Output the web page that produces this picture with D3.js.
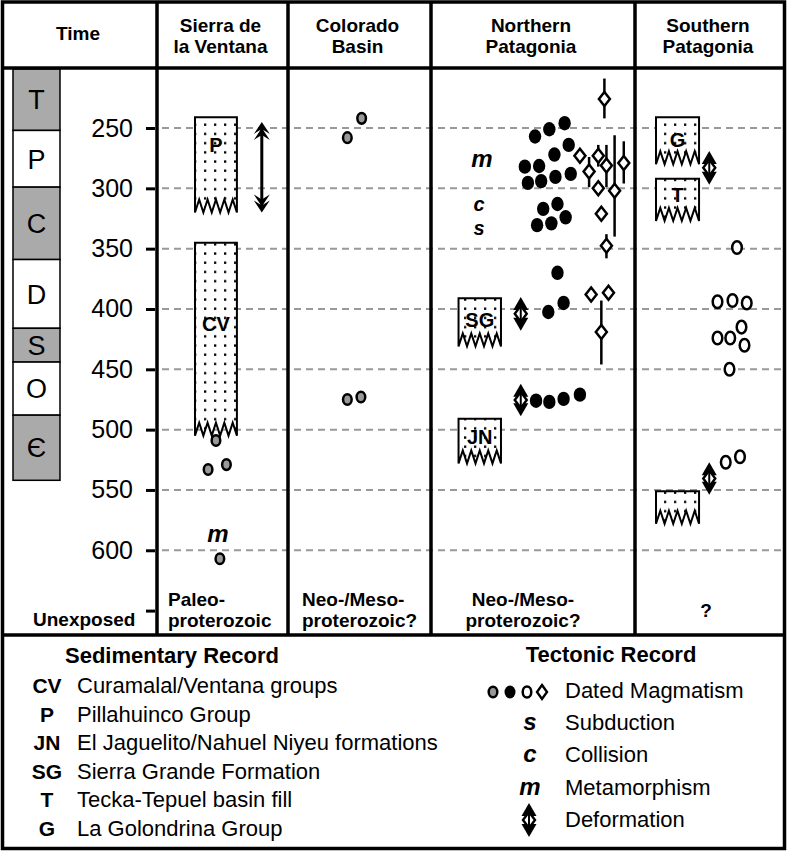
<!DOCTYPE html>
<meta charset="utf-8">
<title>Time chart</title>
<style>
  body { margin: 0; background: #fff; }
  svg text { font-family: "Liberation Sans", Arial, Helvetica, sans-serif; }
</style>
<div id="viz"></div>
<script src="https://cdnjs.cloudflare.com/ajax/libs/d3/7.8.5/d3.min.js"></script>
<script>

var width = 788;
var height = 852;

// ---- data ----
var columns = [["Time"], ["Sierra de", "la Ventana"], ["Colorado", "Basin"], ["Northern", "Patagonia"], ["Southern", "Patagonia"]];
var periodSymbols = ["T", "P", "C", "D", "S", "O", "Є"];
var periodBounds = [201, 252, 299, 359, 416, 444, 488, 542];
var ageTicks = [250, 300, 350, 400, 450, 500, 550, 600, 650];
var basementLabels = [["Unexposed"], ["Paleo-", "proterozoic"], ["Neo-/Meso-", "proterozoic?"], ["Neo-/Meso-", "proterozoic?"], ["?"]];

// sedimentary units: column, label, top age, base age, age of label
var sedBoxes = [
  {col: 1, label: "P", top: 241, base: 320, labelAge: 264},
  {col: 1, label: "CV", top: 345, base: 505, labelAge: 412},
  {col: 3, label: "SG", top: 391, base: 431, labelAge: 409},
  {col: 3, label: "JN", top: 491, base: 528, labelAge: 506},
  {col: 4, label: "G", top: 241, base: 280, labelAge: 260},
  {col: 4, label: "T", top: 292, base: 327, labelAge: 305},
  {col: 4, label: "", top: 551, base: 578, labelAge: 560}
];

// dated magmatism; lane = place across the column (0-100)
var greyDots = [
  {col: 1, lane: 45, age: 509}, {col: 1, lane: 39, age: 533}, {col: 1, lane: 53, age: 529}, {col: 1, lane: 48, age: 607},
  {col: 2, lane: 41.5, age: 258}, {col: 2, lane: 51.5, age: 242},
  {col: 2, lane: 41.5, age: 475}, {col: 2, lane: 51, age: 473}
];
var blackDots = [
  {lane: 51, age: 257}, {lane: 58, age: 251}, {lane: 65.5, age: 246}, {lane: 67.5, age: 264}, {lane: 60.5, age: 272},
  {lane: 46, age: 282}, {lane: 53, age: 281.5}, {lane: 47.5, age: 295.5}, {lane: 54, age: 294}, {lane: 61, age: 290.5},
  {lane: 68.5, age: 288}, {lane: 55, age: 317}, {lane: 62, age: 313}, {lane: 66, age: 324}, {lane: 52, age: 330.5},
  {lane: 59, age: 329}, {lane: 62, age: 370}, {lane: 57.5, age: 402.5}, {lane: 65, age: 395},
  {lane: 51.5, age: 476}, {lane: 58, age: 477}, {lane: 65, age: 474.5}, {lane: 73, age: 471}
];
var openCircles = [
  {lane: 68, age: 349}, {lane: 55, age: 394}, {lane: 65, age: 393}, {lane: 74.5, age: 395},
  {lane: 55, age: 424}, {lane: 63.5, age: 424}, {lane: 71, age: 415}, {lane: 73, age: 430},
  {lane: 63, age: 450}, {lane: 60.5, age: 527}, {lane: 70, age: 522.5}
];
// diamonds with optional age uncertainty (lo, hi)
var diamonds = [
  {lane: 85, age: 226, lo: 209, hi: 242},
  {lane: 73, age: 273},
  {lane: 82, age: 273, lo: 264, hi: 282},
  {lane: 77.5, age: 286, lo: 274, hi: 299},
  {lane: 86, age: 281, lo: 264, hi: 299},
  {lane: 94.5, age: 279, lo: 261, hi: 296},
  {lane: 82, age: 300},
  {lane: 90, age: 302, lo: 256, hi: 340},
  {lane: 83.5, age: 321},
  {lane: 86, age: 347.5, lo: 338, hi: 358},
  {lane: 78.5, age: 388},
  {lane: 87, age: 386.5},
  {lane: 83.5, age: 419, lo: 393, hi: 446}
];
var deformation = [
  {col: 1, lane: 80, top: 245, base: 320},
  {col: 3, lane: 44, top: 390, base: 418},
  {col: 3, lane: 44, top: 462, base: 489},
  {col: 4, lane: 49.5, top: 269, base: 297},
  {col: 4, lane: 49.5, top: 527, base: 554}
];
var processMarks = [
  {col: 1, lane: 46.5, age: 587, sym: "m"},
  {col: 3, lane: 25, age: 276, sym: "m"},
  {col: 3, lane: 23.5, age: 314, sym: "c"},
  {col: 3, lane: 23.5, age: 334, sym: "s"}
];

var sedLegend = [["CV", "Curamalal/Ventana groups"], ["P", "Pillahuinco Group"], ["JN", "El Jaguelito/Nahuel Niyeu formations"],
  ["SG", "Sierra Grande Formation"], ["T", "Tecka-Tepuel basin fill"], ["G", "La Golondrina Group"]];
var tecLegend = ["Dated Magmatism", "Subduction", "Collision", "Metamorphism", "Deformation"];
var tecSymbols = ["", "s", "c", "m", ""];

// ---- layout ----
var colEdges = [3, 157, 288, 431, 635, 785];
var boxLanes = {1: [29, 61], 3: [13.5, 34.3], 4: [14, 42.7]};
var y = d3.scaleLinear().domain([200, 650]).range([67.7, 610.6]);
function lane(c) {
  return d3.scaleLinear().domain([0, 100]).range([colEdges[c], colEdges[c + 1]]);
}

var svg = d3.select("#viz")
  .append("svg")
  .attr("width", width)
  .attr("height", height);

var pat = svg.append("defs").append("pattern")
  .attr("id", "stipple")
  .attr("patternUnits", "userSpaceOnUse")
  .attr("width", 10)
  .attr("height", 9.2);
pat.append("rect").attr("width", 10).attr("height", 9.2).attr("fill", "#fff");
pat.append("rect").attr("x", 4).attr("y", 4).attr("width", 2.3).attr("height", 2.3).attr("fill", "#000");

// grid lines
svg.append("g").selectAll("line")
  .data(ageTicks.filter(d => d < 650))
  .join("line")
  .attr("x1", colEdges[1] + 5)
  .attr("x2", colEdges[5])
  .attr("y1", d => y(d))
  .attr("y2", d => y(d))
  .attr("stroke", "#999")
  .attr("stroke-width", 2)
  .attr("stroke-dasharray", "7,5");

// time column: periods
var per = svg.append("g");
periodSymbols.forEach(function(s, i) {
  var y0 = y(periodBounds[i]), y1 = y(periodBounds[i + 1]);
  per.append("rect")
    .attr("x", 13).attr("y", y0)
    .attr("width", 47).attr("height", y1 - y0)
    .attr("fill", i % 2 == 0 ? "#aaa" : "#fff")
    .attr("stroke", "#000").attr("stroke-width", 1.5);
  per.append("text")
    .attr("x", 36.5).attr("y", (y0 + y1) / 2)
    .attr("dy", "0.36em")
    .attr("text-anchor", "middle")
    .attr("font-size", 27)
    .text(s);
});

// age axis
var axis = svg.append("g")
  .attr("transform", "translate(" + (colEdges[1] - 2) + ",0)")
  .call(d3.axisLeft(y).tickValues(ageTicks).tickFormat(d => d == 650 ? "" : d).tickSize(9).tickPadding(13));
axis.select(".domain").remove();
axis.selectAll("line").attr("stroke-width", 3);
axis.selectAll("text").attr("font-size", 25).attr("font-family", null).attr("fill", "#000");

// sedimentary boxes
function boxPath(x0, x1, yt, yb) {
  var n = 5, h = 13, t = (x1 - x0) / n;
  var p = d3.path();
  p.moveTo(x0, yb); p.lineTo(x0, yt); p.lineTo(x1, yt); p.lineTo(x1, yb);
  for (var i = 0; i < n; i++) {
    p.lineTo(x1 - t * (i + 0.5), yb - h);
    p.lineTo(x1 - t * (i + 1), yb);
  }
  p.closePath();
  return p.toString();
}
var boxes = svg.append("g");
sedBoxes.forEach(function(b) {
  var sx = lane(b.col), l = boxLanes[b.col];
  boxes.append("path")
    .attr("d", boxPath(sx(l[0]), sx(l[1]), y(b.top), y(b.base)))
    .attr("fill", "url(#stipple)")
    .attr("stroke", "#000")
    .attr("stroke-width", 2)
    .attr("stroke-linejoin", "miter");
  boxes.append("text")
    .attr("x", (sx(l[0]) + sx(l[1])) / 2)
    .attr("y", y(b.labelAge))
    .attr("dy", "0.36em")
    .attr("text-anchor", "middle")
    .attr("font-size", 20)
    .attr("font-weight", "bold")
    .text(b.label);
});

// deformation symbols
function deformSymbol(g, x, y0, y1) {
  if (y1 - y0 > 60) {
    g.append("line").attr("x1", x).attr("x2", x).attr("y1", y0 + 4).attr("y2", y1 - 4)
      .attr("stroke", "#000").attr("stroke-width", 3);
    [0, 6].forEach(function(o) {
      g.append("path").attr("d", "M" + x + "," + (y0 + o) + "l-8,12l8,-5l8,5z").attr("fill", "#000");
      g.append("path").attr("d", "M" + x + "," + (y1 - o) + "l-8,-12l8,5l8,-5z").attr("fill", "#000");
    });
  } else {
    var ym = (y0 + y1) / 2;
    g.append("path").attr("d", "M" + x + "," + y0 + "l-7.5,13h15z").attr("fill", "#000");
    g.append("path").attr("d", "M" + x + "," + y1 + "l-7.5,-13h15z").attr("fill", "#000");
    g.append("path").attr("d", "M" + x + "," + (ym - 8) + "l6,8l-6,8l-6,-8z")
      .attr("fill", "#fff").attr("stroke", "#000").attr("stroke-width", 2.4);
    g.append("line").attr("x1", x).attr("x2", x).attr("y1", y0 + 4).attr("y2", y1 - 4)
      .attr("stroke", "#000").attr("stroke-width", 2);
  }
}
var defG = svg.append("g");
deformation.forEach(function(d) {
  deformSymbol(defG, lane(d.col)(d.lane), y(d.top), y(d.base));
});

// magmatism
var marks = svg.append("g");
marks.selectAll(".grey")
  .data(greyDots)
  .join("ellipse")
  .attr("cx", d => lane(d.col)(d.lane))
  .attr("cy", d => y(d.age))
  .attr("rx", 4.3).attr("ry", 5.3)
  .attr("fill", "#999").attr("stroke", "#000").attr("stroke-width", 2.5);
marks.selectAll(".black")
  .data(blackDots)
  .join("ellipse")
  .attr("cx", d => lane(3)(d.lane))
  .attr("cy", d => y(d.age))
  .attr("rx", 6.2).attr("ry", 7.2)
  .attr("fill", "#000");
marks.selectAll(".open")
  .data(openCircles)
  .join("ellipse")
  .attr("cx", d => lane(4)(d.lane))
  .attr("cy", d => y(d.age))
  .attr("rx", 4.8).attr("ry", 6.3)
  .attr("fill", "#fff").attr("stroke", "#000").attr("stroke-width", 2.5);
marks.selectAll(".err")
  .data(diamonds.filter(d => d.lo))
  .join("line")
  .attr("x1", d => lane(3)(d.lane))
  .attr("x2", d => lane(3)(d.lane))
  .attr("y1", d => y(d.lo))
  .attr("y2", d => y(d.hi))
  .attr("stroke", "#000").attr("stroke-width", 2.5);
marks.selectAll(".dia")
  .data(diamonds)
  .join("path")
  .attr("d", d => {
    var cx = lane(3)(d.lane), cy = y(d.age);
    return "M" + cx + "," + (cy - 7) + "l5.5,7l-5.5,7l-5.5,-7z";
  })
  .attr("fill", "#fff").attr("stroke", "#000").attr("stroke-width", 2.5);

// process letters
svg.append("g").selectAll("text")
  .data(processMarks)
  .join("text")
  .attr("x", d => lane(d.col)(d.lane))
  .attr("y", d => y(d.age))
  .attr("dy", "0.3em")
  .attr("text-anchor", "middle")
  .attr("font-size", d => d.sym == "m" ? 24 : 20)
  .attr("font-weight", "bold")
  .attr("font-style", "italic")
  .text(d => d.sym);

// headers
columns.forEach(function(lines, i) {
  var cx = (colEdges[i] + colEdges[i + 1]) / 2 - 2;
  var t = svg.append("text")
    .attr("text-anchor", "middle")
    .attr("font-size", 19)
    .attr("font-weight", "bold");
  lines.forEach(function(s, k) {
    t.append("tspan").attr("x", cx)
      .attr("y", lines.length == 1 ? 40 : 32 + k * 21)
      .text(s);
  });
});

// basement labels
var baseX = [[33, "start"], [168, "start"], [302, "start"], [523, "middle"], [706, "middle"]];
basementLabels.forEach(function(lines, i) {
  var t = svg.append("text")
    .attr("text-anchor", baseX[i][1])
    .attr("font-size", 19)
    .attr("font-weight", "bold");
  lines.forEach(function(s, k) {
    var yy = lines.length == 1 ? (i == 0 ? 626 : 617) : 606 + k * 20.5;
    t.append("tspan").attr("x", baseX[i][0]).attr("y", yy).text(s);
  });
});

// frame
var frame = svg.append("g").attr("stroke", "#000").attr("stroke-width", 3.5).attr("fill", "none");
frame.append("rect").attr("x", 2.5).attr("y", 2).attr("width", 782).attr("height", 846.5);
frame.append("line").attr("x1", 2).attr("x2", 785).attr("y1", 68).attr("y2", 68);
frame.append("line").attr("x1", 2).attr("x2", 785).attr("y1", 635).attr("y2", 635);
colEdges.slice(1, 5).forEach(function(x) {
  frame.append("line").attr("x1", x).attr("x2", x).attr("y1", 2).attr("y2", 635);
});

// legend: sedimentary record
var leg = svg.append("g").attr("font-size", 22);
leg.append("text").attr("x", 65).attr("y", 663).attr("font-weight", "bold").text("Sedimentary Record");
sedLegend.forEach(function(d, i) {
  var yy = 693 + i * 28.5;
  leg.append("text").attr("x", 47).attr("y", yy).attr("text-anchor", "middle")
    .attr("font-weight", "bold").attr("font-size", 21).text(d[0]);
  leg.append("text").attr("x", 77).attr("y", yy).text(d[1]);
});

// legend: tectonic record
leg.append("text").attr("x", 611).attr("y", 662).attr("text-anchor", "middle")
  .attr("font-weight", "bold").text("Tectonic Record");
tecLegend.forEach(function(s, i) {
  var yy = 698 + i * 32.2;
  leg.append("text").attr("x", 565).attr("y", yy).text(s);
  if (tecSymbols[i]) {
    leg.append("text").attr("x", 530).attr("y", yy).attr("text-anchor", "middle")
      .attr("font-weight", "bold").attr("font-style", "italic").attr("font-size", 24)
      .text(tecSymbols[i]);
  }
});
leg.append("ellipse").attr("cx", 493).attr("cy", 692).attr("rx", 4.3).attr("ry", 5.3)
  .attr("fill", "#999").attr("stroke", "#000").attr("stroke-width", 2.5);
leg.append("ellipse").attr("cx", 510).attr("cy", 692).attr("rx", 5.5).attr("ry", 6.5).attr("fill", "#000");
leg.append("ellipse").attr("cx", 527).attr("cy", 692).attr("rx", 4.3).attr("ry", 5.5)
  .attr("fill", "#fff").attr("stroke", "#000").attr("stroke-width", 2.5);
leg.append("path").attr("d", "M542,685l5,7l-5,7l-5,-7z")
  .attr("fill", "#fff").attr("stroke", "#000").attr("stroke-width", 2.4);
deformSymbol(leg, 529, 803, 837);

</script>
